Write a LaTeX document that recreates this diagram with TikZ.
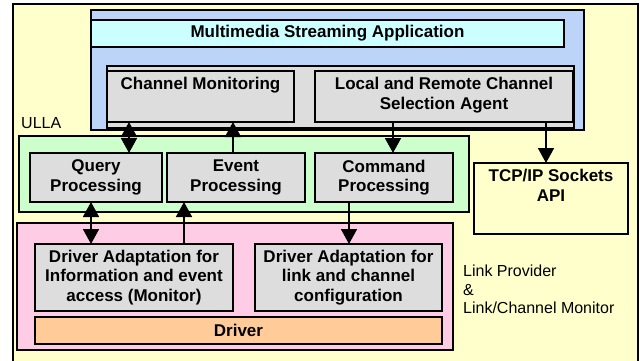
\documentclass[tikz,border=0pt]{standalone}
\usepackage{fontspec}
\setmainfont{Liberation Sans}
\usetikzlibrary{arrows.meta}
\definecolor{bgyel}{HTML}{FFFFCC}
\definecolor{appblue}{RGB}{187,212,247}
\definecolor{appcyan}{HTML}{CCFFFF}
\definecolor{ullagreen}{HTML}{CCFFCC}
\definecolor{linkpink}{HTML}{FFCCE6}
\definecolor{boxgray}{HTML}{DDDDDD}
\definecolor{drvorange}{HTML}{FFCC99}
\begin{document}
\begin{tikzpicture}[x=1pt,y=-1pt,
  box/.style={draw=black, line width=1.6pt, rectangle, inner sep=0pt, outer sep=0pt},
  bx/.style={box, fill=boxgray, font=\fontsize{17}{19.5}\selectfont\bfseries, align=center},
  lbl/.style={anchor=north, yshift=-6pt, inner sep=0pt, font=\fontsize{17}{19.5}\selectfont\bfseries, align=center},
  txt/.style={inner sep=0pt, font=\fontsize{16}{18.5}\selectfont},
  arr/.style={line width=1.7pt, -{Triangle[width=16pt,length=15pt]}},
  dbl/.style={line width=1.7pt, {Triangle[width=16pt,length=15pt]}-{Triangle[width=16pt,length=15pt]}}]
\useasboundingbox (0,0) rectangle (640,360);
\clip (0,0) rectangle (640,360);
% outer frame
\node[box, fill=bgyel, line width=1.3pt, minimum width=625, minimum height=362] (outer) at (325.5,185) {};
% application layer
\node[box, fill=appblue, minimum width=493, minimum height=120] (app) at (337.5,70) {};
\node[bx, fill=appcyan, minimum width=473, minimum height=27] (msa) at (327.5,33.5) {Multimedia Streaming Application};
\node[box, fill=boxgray, minimum width=467, minimum height=62] (cont) at (340.5,97) {};
\node[box, fill=boxgray, minimum width=187, minimum height=51,
      label={[lbl]north:Channel Monitoring}] (cm) at (200.5,96.5) {};
\node[box, fill=boxgray, minimum width=258, minimum height=51,
      label={[lbl]north:{Local and Remote Channel\\Selection Agent}}] (lr) at (444,96.5) {};
% ULLA
\node[box, fill=ullagreen, minimum width=450, minimum height=76] (ulla) at (244,174) {};
\node[txt, anchor=base west] (ullalbl) at (21,128) {ULLA};
\node[bx, minimum width=132, minimum height=49] (qp) at (96,177.5) {Query\\Processing};
\node[bx, minimum width=138, minimum height=49] (ep) at (236,177.5) {Event\\Processing};
\node[bx, minimum width=138, minimum height=49] (cp) at (384,177.5) {Command\\Processing};
% TCP/IP
\node[box, fill=bgyel, minimum width=154, minimum height=71,
      label={[lbl]north:{TCP/IP Sockets\\API}}] (tcp) at (551,198.5) {};
% Link provider
\node[box, fill=linkpink, minimum width=436, minimum height=127] (lp) at (235,286.5) {};
\node[bx, minimum width=198, minimum height=67] (dai) at (134,277.5) {Driver Adaptation for\\Information and event\\access (Monitor)};
\node[bx, minimum width=187, minimum height=67] (dal) at (348.5,277.5) {Driver Adaptation for\\link and channel\\configuration};
\node[bx, fill=drvorange, minimum width=407, minimum height=27] (drv) at (238.5,330.5) {Driver};
\node[txt, anchor=north west, align=left] (lpl) at (463,265) {Link Provider\\\&\\Link/Channel Monitor};
% arrow columns
\coordinate (xa) at (129,0);
\coordinate (xb) at (233,0);
\coordinate (xc) at (393,0);
\coordinate (xd) at (546,0);
\coordinate (xe) at (91,0);
\coordinate (xf) at (184,0);
\coordinate (xg) at (349,0);
\draw[dbl] (cm.south -| xa) -- (qp.north -| xa);
\draw[arr] (ep.north -| xb) -- (cm.south -| xb);
\draw[arr] (lr.south -| xc) -- (cp.north -| xc);
\draw[arr] (lr.south -| xd) -- (tcp.north -| xd);
\draw[dbl] (qp.south -| xe) -- (dai.north -| xe);
\draw[arr] (dai.north -| xf) -- (ep.south -| xf);
\draw[arr] (cp.south -| xg) -- (dal.north -| xg);
\end{tikzpicture}
\end{document}
